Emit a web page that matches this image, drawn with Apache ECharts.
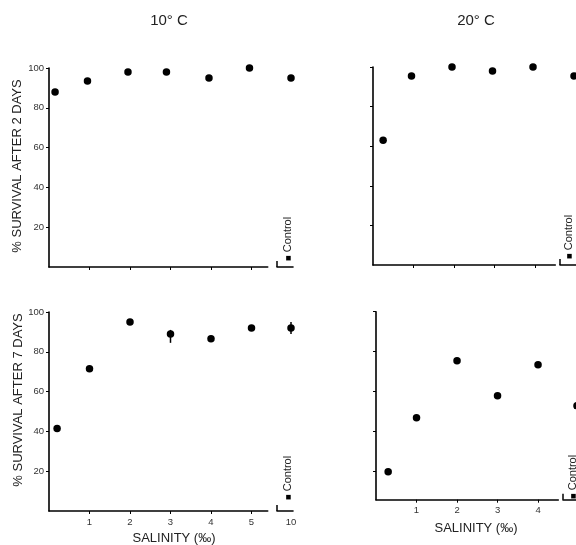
<!DOCTYPE html>
<html><head><meta charset="utf-8">
<script src="https://cdn.jsdelivr.net/npm/echarts@6/dist/echarts.min.js"></script>
<style>html,body{margin:0;padding:0;background:#fff}#c{width:576px;height:545px}</style>
</head><body><div id="c"></div>
<script>
// ---- data ----
const salinity10Day2 = [0.15, 0.95, 1.95, 2.9, 3.95, 4.95];
const survival10Day2 = [88, 93.5, 98, 98, 95, 100];
const control10Day2 = 95;

const salinity10Day7 = [0.2, 1, 2, 3, 4, 5];
const survival10Day7 = [41.5, 71.5, 95, 89, 86.5, 92];
const control10Day7 = 92;
const errorBars10Day7 = [[3, 84.5, 91]];
const controlErrorBars10Day7 = [[10, 89, 95]];

const salinity20Day2 = [0.25, 0.95, 1.95, 2.95, 3.95];
const survival20Day2 = [63, 95.5, 100, 98, 100];
const control20Day2 = 95.5;

const salinity20Day7 = [0.3, 1, 2, 3, 4];
const survival20Day7 = [20, 47, 75.5, 58, 73.5];
const control20Day7 = 53;

const controlSalinity = 10;
const xTicks10 = [1, 2, 3, 4, 5];
const xTicks20 = [1, 2, 3, 4];
const yTicks = [20, 40, 60, 80, 100];
const controlTicks = [10];

// ---- layout ----
const FONT = 'Liberation Sans';
const INK = '#000';
const panels = [
  {main:{left:49, top:68, width:218.7, height:199}, ctrl:{left:277, width:16}, xmax:5.4, ymin:0,
   xs:salinity10Day2, ys:survival10Day2, ctrlVal:control10Day2, xt:xTicks10, xLabels:false, ctrlLabel:false, yLabels:true, err:[], ctrlErr:[]},
  {main:{left:49, top:312, width:218.7, height:199}, ctrl:{left:277, width:16}, xmax:5.4, ymin:0,
   xs:salinity10Day7, ys:survival10Day7, ctrlVal:control10Day7, xt:xTicks10, xLabels:true, ctrlLabel:true, yLabels:true, err:errorBars10Day7, ctrlErr:controlErrorBars10Day7},
  {main:{left:373, top:67, width:182.3, height:198}, ctrl:{left:560, width:16}, xmax:4.5, ymin:0,
   xs:salinity20Day2, ys:survival20Day2, ctrlVal:control20Day2, xt:xTicks20, xLabels:false, ctrlLabel:false, yLabels:false, err:[], ctrlErr:[]},
  {main:{left:376, top:311.7, width:182.3, height:188}, ctrl:{left:563, width:16}, xmax:4.5, ymin:6,
   xs:salinity20Day7, ys:survival20Day7, ctrlVal:control20Day7, xt:xTicks20, xLabels:true, ctrlLabel:false, yLabels:false, err:[], ctrlErr:[]}
];

const grid = [], xAxis = [], yAxis = [], series = [];
const axisLine = {show:true, onZero:false, lineStyle:{color:INK, width:1.6}};
const labelStyle = {color:'#333', fontSize:9.5, fontFamily:FONT};

function errRender(params, api) {
  const x = api.value(0), lo = api.value(1), hi = api.value(2);
  const a = api.coord([x, lo]), b = api.coord([x, hi]);
  return {type:'line', shape:{x1:a[0], y1:a[1], x2:b[0], y2:b[1]}, style:{stroke:INK, lineWidth:1.5}};
}

panels.forEach((p) => {
  const gi = grid.length;
  grid.push({left:p.main.left, top:p.main.top, width:p.main.width, height:p.main.height, containLabel:false, outerBoundsMode:'none'});
  grid.push({left:p.ctrl.left, top:p.main.top, width:p.ctrl.width, height:p.main.height, containLabel:false, outerBoundsMode:'none'});
  // main axes
  xAxis.push({type:'value', gridIndex:gi, min:0, max:p.xmax, axisLine:axisLine,
    axisTick:{show:true, inside:false, length:3, customValues:p.xt, lineStyle:{color:INK}},
    axisLabel:{show:p.xLabels, customValues:p.xt, margin:6, ...labelStyle}, splitLine:{show:false}});
  yAxis.push({type:'value', gridIndex:gi, min:p.ymin, max:100, axisLine:axisLine,
    axisTick:{show:true, inside:false, length:3, customValues:yTicks, lineStyle:{color:INK}},
    axisLabel:{show:p.yLabels, customValues:yTicks, margin:5, ...labelStyle}, splitLine:{show:false}});
  // control axes
  xAxis.push({type:'value', gridIndex:gi+1, min:9.65, max:10.05, axisLine:axisLine,
    axisTick:{show:true, inside:true, length:6, customValues:[9.65], lineStyle:{color:INK, width:1.5}},
    axisLabel:{show:p.ctrlLabel, customValues:controlTicks, margin:6, ...labelStyle}, splitLine:{show:false}});
  yAxis.push({type:'value', gridIndex:gi+1, min:p.ymin, max:100, show:false, splitLine:{show:false}});

  series.push({type:'scatter', xAxisIndex:gi, yAxisIndex:gi, symbol:'circle', symbolSize:7.5,
    itemStyle:{color:INK, opacity:1}, data:p.xs.map((x, i) => [x, p.ys[i]])});
  series.push({type:'scatter', xAxisIndex:gi+1, yAxisIndex:gi+1, symbol:'circle', symbolSize:7.5, clip:false,
    itemStyle:{color:INK, opacity:1}, data:[[controlSalinity, p.ctrlVal]]});
  if (p.err.length) series.push({type:'custom', xAxisIndex:gi, yAxisIndex:gi, renderItem:errRender,
    encode:{x:0, y:[1,2]}, data:p.err, z:1});
  if (p.ctrlErr.length) series.push({type:'custom', xAxisIndex:gi+1, yAxisIndex:gi+1, renderItem:errRender,
    encode:{x:0, y:[1,2]}, data:p.ctrlErr, z:1});
});

function txt(text, x, y, size, rot, align, rich) {
  const style = {text:text, fontSize:size, fontFamily:FONT, fill:'#222', align:align || 'center', verticalAlign:'middle'};
  if (rich) style.rich = rich;
  return {type:'text', x:x, y:y, rotation:rot || 0, style:style};
}
const R = Math.PI / 2;
const mark = {m:{fontSize:6, fill:'#000', fontFamily:'DejaVu Sans'}};
const graphic = [
  txt('10° C', 169, 21, 15),
  txt('20° C', 476, 21, 15),
  txt('% SURVIVAL AFTER 2 DAYS', 17, 166, 13, R),
  txt('% SURVIVAL AFTER 7 DAYS', 18, 400, 13, R),
  txt('SALINITY (‰)', 174, 538, 13),
  txt('SALINITY (‰)', 476, 528, 13),
  txt('{m|■} Control', 288, 261, 11, R, 'left', mark),
  txt('{m|■} Control', 288, 500, 11, R, 'left', mark),
  txt('{m|■} Control', 569, 259, 11, R, 'left', mark),
  txt('{m|■} Control', 573, 499, 11, R, 'left', mark)
];

const chart = echarts.init(document.getElementById('c'), null, {renderer:'canvas'});
chart.setOption({backgroundColor:'#fff', animation:false, grid, xAxis, yAxis, series, graphic});
</script></body></html>
